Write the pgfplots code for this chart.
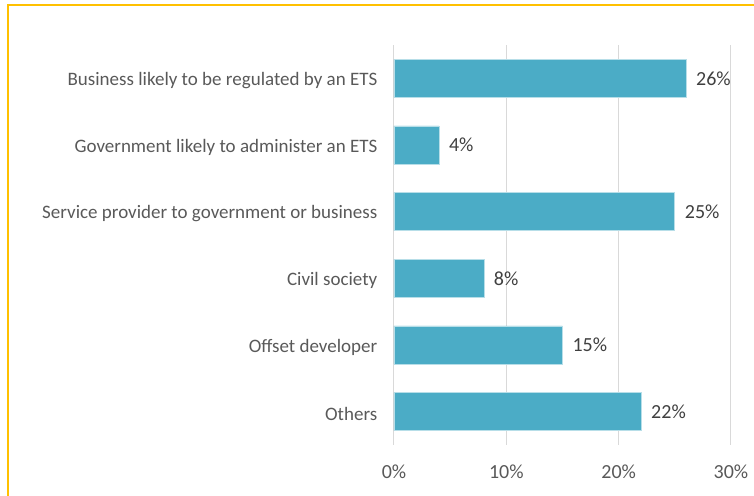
\documentclass[border=0pt]{standalone}
\usepackage{pgfplots}
\pgfplotsset{compat=1.18}
\usetikzlibrary{calc}
\usepackage{fontspec}
\setmainfont{Carlito}
\definecolor{barc}{HTML}{4BACC6}
\definecolor{txt}{HTML}{595959}
\definecolor{lbl}{HTML}{404040}
\definecolor{gold}{HTML}{FFC000}
\definecolor{gridc}{HTML}{D9D9D9}
\begin{document}
\begin{tikzpicture}[x=0.75pt,y=0.75pt]
\begin{axis}[
  /pgf/number format/assume math mode=true,
  scale only axis, width=252.75pt, height=300pt,
  xmin=0, xmax=30, ymin=-0.5, ymax=5.5,
  xbar, bar width=28.5pt,
  xtick={0,10,20,30},
  xticklabel={\pgfmathprintnumber{\tick}\%},
  ytick={0,1,2,3,4,5},
  yticklabels={Others\ ,Offset developer,Civil society,Service provider to government or business,Government likely to administer an ETS,Business likely to be regulated by an ETS},
  xmajorgrids, grid style={draw=gridc, line width=0.75pt},
  axis line style={draw=none},
  major tick length=0pt,
  tick label style={color=txt},
  yticklabel style={font=\fontsize{14.25}{16}\selectfont, xshift=-9pt, yshift=-1.5pt},
  xticklabel style={font=\fontsize{15}{17}\selectfont, yshift=-11.5pt},
  nodes near coords={\pgfmathprintnumber{\pgfplotspointmeta}\%},
  nodes near coords align=horizontal,
  every node near coord/.append style={color=lbl, font=\fontsize{15}{17}\selectfont, xshift=4pt},
  clip=false,
]
\addplot[fill=barc, draw=barc!40!white, line width=0.5pt] coordinates {
(22,0) (15,1) (8,2) (25,3) (4,4) (26,5)
};
\coordinate (O) at (axis cs:0,-0.5);
\end{axis}
\pgfresetboundingbox
\useasboundingbox ($(O)+(-394,-51)$) rectangle ++(754,496);
\draw[gold, line width=2pt] ($(O)+(-386,-60)$) -- ++(0,500) -- ++(760,0);
\end{tikzpicture}
\end{document}
